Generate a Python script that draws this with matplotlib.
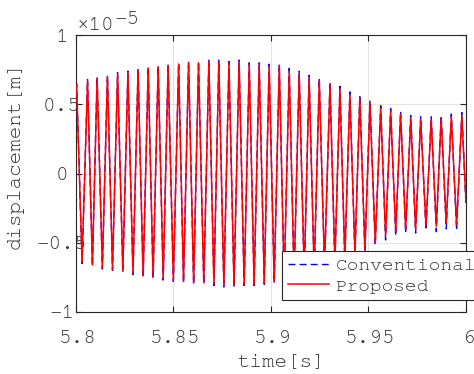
import numpy as np
import matplotlib
matplotlib.use('Agg')
import matplotlib.pyplot as plt
import matplotlib.transforms as mtransforms
from matplotlib.ticker import FormatStrFormatter

plt.rcParams['font.family'] = ['Nimbus Mono PS', 'FreeMono', 'Courier New', 'Liberation Mono', 'DejaVu Sans']
plt.rcParams['font.size'] = 15
plt.rcParams['axes.unicode_minus'] = True

# peaks / troughs (time in s, displacement in 1e-5 m)
peak_t = [5.8004, 5.8060, 5.8109, 5.8162, 5.8214, 5.8267, 5.8319, 5.8371, 5.8422, 5.8473,
          5.8527, 5.8578, 5.8629, 5.8682, 5.8733, 5.8785, 5.8837, 5.8889, 5.8940, 5.8991,
          5.9043, 5.9094, 5.9145, 5.9196, 5.9248, 5.9303, 5.9354, 5.9405, 5.9456, 5.9508,
          5.9563, 5.9614, 5.9665, 5.9717, 5.9768, 5.9822, 5.9873, 5.9925, 5.9979]
trough_t = [5.8032, 5.8085, 5.8136, 5.8188, 5.8241, 5.8293, 5.8345, 5.8396, 5.8448, 5.8500,
            5.8552, 5.8604, 5.8656, 5.8708, 5.8759, 5.8811, 5.8863, 5.8914, 5.8966, 5.9017,
            5.9068, 5.9119, 5.9171, 5.9222, 5.9275, 5.9328, 5.9379, 5.9431, 5.9482, 5.9535,
            5.9588, 5.9640, 5.9691, 5.9742, 5.9795, 5.9848, 5.9899, 5.9952]

prop_peaks = [0.64, 0.67, 0.69, 0.70, 0.72, 0.73, 0.75, 0.76, 0.77, 0.78,
              0.79, 0.80, 0.80, 0.81, 0.81, 0.80, 0.81, 0.79, 0.79, 0.78,
              0.78, 0.74, 0.72, 0.69, 0.67, 0.64, 0.61, 0.57, 0.55, 0.51,
              0.47, 0.45, 0.43, 0.40, 0.39, 0.39, 0.40, 0.41, 0.42]
prop_troughs = [-0.64, -0.66, -0.68, -0.69, -0.70, -0.72, -0.74, -0.75, -0.76, -0.77,
                -0.78, -0.79, -0.79, -0.80, -0.81, -0.81, -0.80, -0.80, -0.79, -0.78,
                -0.77, -0.75, -0.73, -0.70, -0.67, -0.64, -0.61, -0.58, -0.55, -0.50,
                -0.45, -0.42, -0.40, -0.40, -0.38, -0.38, -0.36, -0.37]
conv_peaks = [0.65, 0.68, 0.70, 0.71, 0.73, 0.74, 0.76, 0.77, 0.78, 0.79,
              0.80, 0.81, 0.81, 0.82, 0.82, 0.81, 0.82, 0.80, 0.80, 0.79,
              0.79, 0.76, 0.74, 0.71, 0.69, 0.66, 0.63, 0.59, 0.57, 0.53,
              0.49, 0.47, 0.45, 0.42, 0.41, 0.41, 0.42, 0.43, 0.44]
conv_troughs = [-0.65, -0.67, -0.69, -0.70, -0.71, -0.73, -0.75, -0.76, -0.77, -0.78,
                -0.79, -0.80, -0.80, -0.81, -0.82, -0.82, -0.81, -0.81, -0.80, -0.79,
                -0.78, -0.76, -0.74, -0.72, -0.69, -0.66, -0.63, -0.60, -0.57, -0.52,
                -0.48, -0.45, -0.43, -0.43, -0.41, -0.42, -0.40, -0.41]
start_t, start_prop, start_conv = 5.8, 0.62, 0.63
end_t, end_prop, end_conv = 6.0, -0.20, -0.22

xticks = [5.8, 5.85, 5.9, 5.95, 6.0]
yticks = [-1, -0.5, 0, 0.5, 1]
txt = '#333333'


def zigzag(p_t, p_v, tr_t, tr_v, t0, v0, t1, v1):
    n = len(p_t) + len(tr_t)
    t = np.empty(n)
    v = np.empty(n)
    t[0::2], v[0::2] = p_t, p_v
    t[1::2], v[1::2] = tr_t, tr_v
    return np.r_[t0, t, t1], np.r_[v0, v, v1]


tc, yc = zigzag(peak_t, conv_peaks, trough_t, conv_troughs, start_t, start_conv, end_t, end_conv)
tp, yp = zigzag(peak_t, prop_peaks, trough_t, prop_troughs, start_t, start_prop, end_t, end_prop)

fig = plt.figure(figsize=(4.74, 3.74), dpi=100)
ax = fig.add_axes([0.160, 0.166, 0.823, 0.740])

ax.plot(tc, yc, '--', color='blue', lw=1.0, dashes=(5, 3), label='Conventional', zorder=2)
ax.plot(tp, yp, '-', color='red', lw=1.1, label='Proposed', zorder=3)

ax.set_xlim(5.8, 6.0)
ax.set_ylim(-1, 1)
ax.set_xticks(xticks)
ax.set_yticks(yticks)
ax.xaxis.set_major_formatter(FormatStrFormatter('%g'))
ax.yaxis.set_major_formatter(FormatStrFormatter('%g'))
ax.grid(True, color='#e3e3e3', lw=0.8)
ax.set_axisbelow(True)
ax.tick_params(direction='in', top=True, right=True, length=4, colors='#262626',
               labelcolor=txt)
ax.tick_params(axis='x', pad=13)
ax.tick_params(axis='y', pad=10)
for lab in ax.get_yticklabels():
    lab.set_horizontalalignment('center')
shift = mtransforms.ScaledTranslation(2 / 100, 0, fig.dpi_scale_trans)
for lab in ax.get_xticklabels():
    lab.set_transform(lab.get_transform() + shift)
for s in ax.spines.values():
    s.set_color('#262626')
    s.set_linewidth(0.8)

ax.set_xlabel('time[s]', color=txt)
ax.xaxis.set_label_coords(0.526, -0.150)
ax.set_ylabel('displacement[m]', color=txt)
ax.yaxis.set_label_coords(-0.134, 0.567)
fig.text(77 / 474, 1 - 30 / 374, '×10', color=txt, va='baseline', ha='left')
fig.text(114 / 474, 1 - 24 / 374, '−5', color=txt, va='baseline', ha='left')

leg = ax.legend(loc='upper left', bbox_to_anchor=(0.595, 0.329), bbox_transform=fig.transFigure,
                fancybox=False, edgecolor='#262626', framealpha=1, borderpad=0.3,
                handlelength=2.1, handletextpad=0.35, labelspacing=0.2, borderaxespad=0,
                fontsize=14)
leg.get_frame().set_linewidth(0.8)
for t in leg.get_texts():
    t.set_color(txt)

fig.savefig('out.png', dpi=100)
